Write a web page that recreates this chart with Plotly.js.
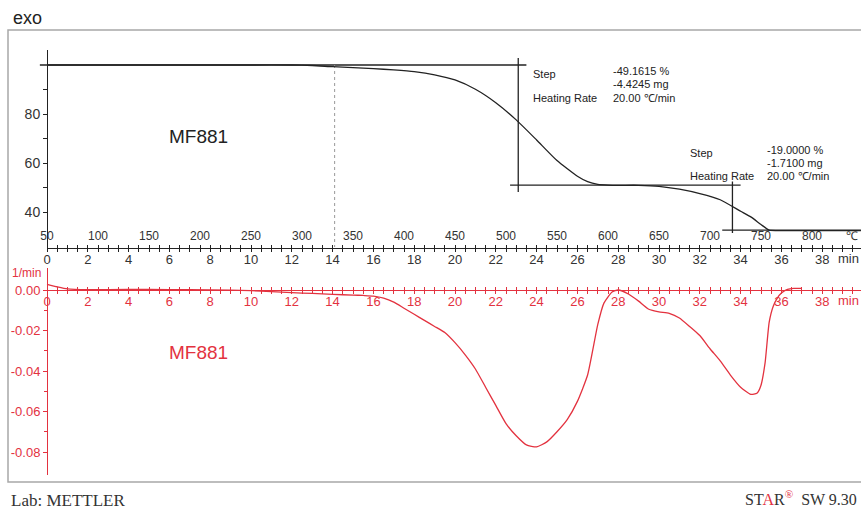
<!DOCTYPE html>
<html>
<head>
<meta charset="utf-8">
<script src="https://cdn.plot.ly/plotly-3.0.1.min.js"></script>
<style>html,body{margin:0;padding:0;background:#fff;}#chart{width:861px;height:510px;}</style>
</head>
<body>
<div id="chart"></div>
<script>
// ---- data ----
const tgaTime = [0, 2, 4, 6, 8, 10, 12, 13, 14, 15, 16, 17, 18, 19, 20, 21, 22, 23, 24, 25, 26, 26.5, 27, 27.5, 28, 29, 30, 31, 32, 33, 34, 34.5, 35, 35.4, 36, 37, 38, 39.9];
const tgaMass = [100, 100, 100, 100, 100, 100, 100, 99.8, 99.3, 98.9, 98.5, 98.0, 97.3, 96.0, 93.9, 90.1, 84.6, 77.6, 69.4, 61.0, 54.6, 52.4, 51.3, 51.0, 50.9, 50.9, 50.5, 49.3, 47.5, 45.0, 40.3, 38.0, 34.9, 32.6, 32.4, 32.4, 32.4, 32.4];

const dtgTime = [0, 0.5, 1, 2, 4, 6, 8, 10, 11, 12, 13, 14, 15, 15.5, 16, 16.5, 17, 17.5, 18, 18.5, 19, 19.5, 20, 20.5, 21, 21.5, 22, 22.5, 23, 23.5, 24, 24.5, 25, 25.5, 26, 26.5, 27, 27.3, 27.7, 28, 28.5, 29, 29.5, 30, 30.5, 31, 31.5, 32, 32.5, 33, 33.5, 34, 34.5, 34.8, 35, 35.2, 35.4, 35.6, 35.8, 36, 36.3, 36.6, 37];
const dtgRate = [0.0028, 0.0016, 0.0006, 0.0002, 0.0003, 0.0002, 0.0001, -0.0003, -0.0008, -0.0013, -0.0017, -0.0022, -0.0025, -0.0027, -0.003, -0.004, -0.006, -0.009, -0.012, -0.015, -0.018, -0.021, -0.026, -0.032, -0.039, -0.048, -0.057, -0.066, -0.072, -0.0765, -0.0775, -0.075, -0.070, -0.064, -0.055, -0.042, -0.017, -0.0065, -0.001, 0.0, -0.002, -0.0055, -0.0095, -0.0108, -0.0115, -0.0138, -0.018, -0.0225, -0.029, -0.035, -0.042, -0.048, -0.0515, -0.051, -0.047, -0.036, -0.016, -0.008, -0.004, -0.0015, 0.0003, 0.0008, 0.0008];

// step evaluation lines (time in min, mass in %)
const step1Top = {t: [-0.35, 23.5], m: [100, 100]};
const step1Vert = {t: [23.1, 23.1], m: [102.9, 48.2]};
const step1Low = {t: [22.7, 34.0], m: [51.0, 51.0]};
const step2Vert = {t: [33.6, 33.6], m: [52.4, 31.4]};
const step2Low = {t: [33.1, 39.9], m: [32.6, 32.6]};
const markerLine = {t: [14.1, 14.1], m: [100, 25.7]};

const timeTicks = [0, 2, 4, 6, 8, 10, 12, 14, 16, 18, 20, 22, 24, 26, 28, 30, 32, 34, 36, 38];
const tempTicks = [50, 100, 150, 200, 250, 300, 350, 400, 450, 500, 550, 600, 650, 700, 750, 800];
const massTicks = [40, 60, 80];
const massMinorTicks = [50, 70, 90];
const rateTicks = [-0.08, -0.06, -0.04, -0.02, 0.0];
const rateTickText = ['-0.08', '-0.06', '-0.04', '-0.02', '0.00'];
const rateMinorTicks = [-0.07, -0.05, -0.03, -0.01];

const step1Text = ['-49.1615 %', '-4.4245 mg', '20.00 ℃/min'];
const step2Text = ['-19.0000 %', '-1.7100 mg', '20.00 ℃/min'];

// ---- geometry (pixels) ----
const W = 861, H = 510;
const px = v => v / W, py = v => 1 - v / H;
const x0px = 47, pxPerMin = 20.4;
const tMin = -x0px / pxPerMin, tMax = (W - x0px) / pxPerMin;
const RED = '#e3323f', INK = '#222';
const FONT = 'Liberation Sans, Arial, sans-serif';
const SERIF = 'Liberation Serif, Times New Roman, serif';

const line = (t, v, color, yaxis, extra) => Object.assign({
  x: t, y: v, xaxis: 'x', yaxis: yaxis, mode: 'lines', hoverinfo: 'skip',
  line: {color: color, width: 1.3}, showlegend: false
}, extra || {});

const traces = [
  line(step1Top.t, step1Top.m, INK, 'y'),
  line(step1Vert.t, step1Vert.m, INK, 'y'),
  line(step1Low.t, step1Low.m, INK, 'y'),
  line(step2Vert.t, step2Vert.m, INK, 'y'),
  line(step2Low.t, step2Low.m, INK, 'y'),
  line(markerLine.t, markerLine.m, '#999', 'y', {line: {color: '#999', width: 1, dash: 'dot'}}),
  line(tgaTime, tgaMass, INK, 'y', {line: {color: INK, width: 1.3, shape: 'spline', smoothing: 0.5}}),
  line(dtgTime, dtgRate, RED, 'y2', {line: {color: RED, width: 1.3, shape: 'spline', smoothing: 0.5}})
];
// empty traces so the decorative axes are drawn
['x2', 'x3', 'x5', 'x7'].forEach(a => traces.push({x: [], y: [], xaxis: a, yaxis: 'y', showlegend: false, hoverinfo: 'skip'}));
['x4', 'x6', 'x8'].forEach(a => traces.push({x: [], y: [], xaxis: a, yaxis: 'y2', showlegend: false, hoverinfo: 'skip'}));

const topPos = py(247.5), redPos = py(289.5);
const yTopRange = [100 - (247.5 - 65) / 2.45, 100 + (65 - 50) / 2.45];
const yBotRange = [(290 - 475) / 40.5 * 0.02, (290 - 268) / 40.5 * 0.02];

// mode: 'labels' (line + labels, no ticks), 'in' / 'out' (tick marks only)
const timeAxis = (color, pos, mode) => ({
  domain: [px(x0px), 1], range: [0, tMax], anchor: 'free', position: pos,
  showline: mode === 'labels', linecolor: color, linewidth: 1.2, showgrid: false, zeroline: false,
  ticks: mode === 'in' ? 'inside' : (mode === 'out' ? 'outside' : ''), ticklen: 3, tickcolor: color, tickwidth: 1,
  tickmode: 'array', tickvals: timeTicks, ticktext: timeTicks.map(String),
  minor: {dtick: 0.5, tick0: 0, ticks: mode === 'in' ? 'inside' : (mode === 'out' ? 'outside' : ''), ticklen: 3, tickcolor: color, tickwidth: 1},
  showticklabels: mode === 'labels', ticklabelstandoff: 0,
  tickfont: {family: FONT, size: 13, color: color === RED ? RED : '#333'},
  fixedrange: true
});

const layout = {
  width: W, height: H, margin: {l: 0, r: 0, t: 0, b: 0},
  paper_bgcolor: '#fff', plot_bgcolor: 'rgba(0,0,0,0)', showlegend: false,
  font: {family: FONT},
  xaxis: {domain: [0, 1], range: [tMin, tMax], visible: false, fixedrange: true},
  xaxis2: timeAxis(INK, topPos, 'labels'),
  xaxis5: timeAxis(INK, topPos, 'in'),
  xaxis7: timeAxis(INK, topPos, 'out'),
  xaxis4: timeAxis(RED, redPos, 'labels'),
  xaxis6: timeAxis(RED, redPos, 'in'),
  xaxis8: timeAxis(RED, redPos, 'out'),
  xaxis3: {
    domain: [px(x0px), 1], range: [50, 50 + 20 * tMax], anchor: 'free', position: topPos,
    side: 'top', showline: false, showgrid: false, zeroline: false, ticks: '',
    tickmode: 'array', tickvals: tempTicks, ticktext: tempTicks.map(String),
    tickfont: {family: FONT, size: 12, color: '#333'}, ticklabelstandoff: 5, fixedrange: true
  },
  yaxis: {
    domain: [py(247.5), py(50)], range: yTopRange, anchor: 'free', position: px(x0px),
    showline: true, linecolor: INK, linewidth: 1.2, showgrid: false, zeroline: false,
    ticks: 'outside', ticklen: 4, tickcolor: INK, tickmode: 'array', tickvals: massTicks, ticktext: massTicks.map(String),
    minor: {tickmode: 'array', tickvals: massMinorTicks, ticks: 'outside', ticklen: 4, tickcolor: INK},
    tickfont: {family: FONT, size: 14, color: '#333'}, fixedrange: true
  },
  yaxis2: {
    domain: [py(475), py(268)], range: yBotRange, anchor: 'free', position: px(x0px),
    showline: true, linecolor: RED, linewidth: 1.2, showgrid: false, zeroline: false,
    ticks: 'outside', ticklen: 4, tickcolor: RED, tickmode: 'array', tickvals: rateTicks, ticktext: rateTickText,
    minor: {tickmode: 'array', tickvals: rateMinorTicks, ticks: 'outside', ticklen: 3, tickcolor: RED},
    tickfont: {family: FONT, size: 13, color: RED}, fixedrange: true
  },
  shapes: [
    {type: 'rect', xref: 'paper', yref: 'paper', x0: px(8), x1: 1.02, y0: py(482), y1: py(30),
     line: {color: '#a8a8a8', width: 1.5}, layer: 'below'}
  ],
  annotations: []
};

const ann = (text, x, y, opts) => layout.annotations.push(Object.assign({
  text: text, xref: 'paper', yref: 'paper', x: px(x), y: py(y), xanchor: 'left', yanchor: 'middle',
  showarrow: false, font: {family: FONT, size: 11, color: '#222'}
}, opts || {}));

ann('exo', 11, 18, {font: {family: FONT, size: 18, color: '#222'}});
ann('MF881', 167, 137, {font: {family: FONT, size: 19, color: '#222'}});
ann('MF881', 167, 352, {font: {family: FONT, size: 19, color: RED}});
ann('1/min', 10, 273, {font: {family: FONT, size: 12, color: RED}});
ann('Step', 531, 74);
ann('Heating Rate', 531, 98);
ann(step1Text[0], 611, 71);
ann(step1Text[1], 611, 84);
ann(step1Text[2], 611, 98);
ann('Step', 688, 153);
ann('Heating Rate', 688, 176);
ann(step2Text[0], 765, 150);
ann(step2Text[1], 765, 163);
ann(step2Text[2], 765, 176);
ann('℃', 844, 236, {font: {family: FONT, size: 12, color: '#333'}});
ann('min', 836, 258, {font: {family: FONT, size: 13, color: '#333'}});
ann('min', 836, 300, {font: {family: FONT, size: 13, color: RED}});
ann('Lab: METTLER', 9, 500, {font: {family: SERIF, size: 17, color: '#333'}});
ann('ST<span style="color:' + RED + '">A</span>R<sup><span style="color:' + RED + '">®</span></sup>  SW 9.30', 859, 498,
    {xanchor: 'right', font: {family: SERIF, size: 16, color: '#333'}});

Plotly.newPlot('chart', traces, layout, {displayModeBar: false, staticPlot: true});
</script>
</body>
</html>
